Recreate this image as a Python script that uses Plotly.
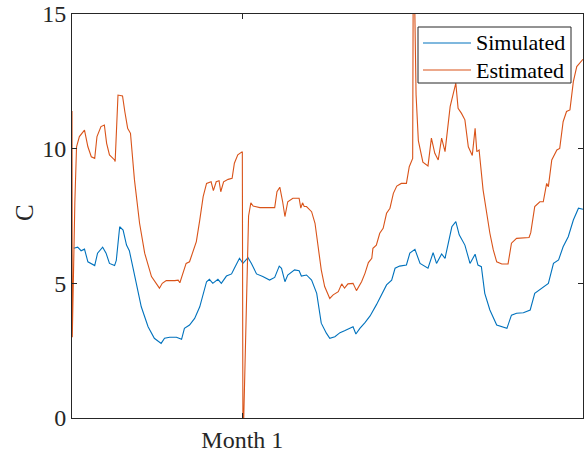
import plotly.graph_objects as go

# Time in days over a 90-day window, tick placed at day 30
sim_days = [0.3, 1.0, 1.6, 2.2, 2.8, 4.0, 4.5, 5.4, 6.0, 6.6, 7.5, 7.8, 8.4, 9.0, 9.6,
            10.1, 10.7, 11.3, 12.2, 13.4, 14.5, 15.7, 16.3, 17.2, 18.4, 19.3, 19.8,
            20.7, 21.6, 22.5, 23.1, 23.7, 24.2, 24.8, 25.7, 26.3, 27.2, 28.1, 28.6,
            29.5, 30.1, 31.0, 31.6, 32.5, 33.6, 34.8, 35.7, 36.5, 36.9, 37.5, 38.0,
            39.2, 40.0, 40.4, 41.3, 42.2, 43.1, 43.9, 44.8, 45.4, 46.3, 47.2, 48.0,
            48.9, 49.5, 50.0, 50.7, 51.6, 52.5, 53.6, 54.5, 55.4, 56.3, 56.9, 57.7,
            58.9, 59.5, 60.4, 61.3, 62.7, 63.6, 64.2, 65.1, 65.7, 66.9, 67.6, 68.2,
            69.2, 70.1, 71.0, 71.5, 72.1, 72.7, 73.6, 74.8, 75.7, 76.6, 77.4, 78.3,
            79.5, 80.7, 81.5, 82.1, 83.0, 83.9, 84.8, 85.7, 86.5, 87.4, 88.3, 89.2,
            90.0]
sim_vals = [6.30, 6.34, 6.21, 6.27, 5.80, 5.66, 6.12, 6.34, 6.12, 5.74, 5.66, 5.85, 7.10,
            6.98, 6.42, 6.21, 5.62, 5.00, 4.13, 3.39, 2.96, 2.77, 2.96, 3.00, 3.00,
            2.92, 3.33, 3.45, 3.70, 4.13, 4.63, 5.06, 5.15, 5.00, 5.15, 5.00, 5.27,
            5.35, 5.56, 5.93, 5.74, 5.95, 5.74, 5.35, 5.25, 5.12, 5.22, 5.64, 5.56,
            5.06, 5.31, 5.50, 5.47, 5.27, 5.31, 5.12, 4.63, 3.52, 3.15, 2.96, 3.02,
            3.17, 3.24, 3.33, 3.39, 3.12, 3.33, 3.54, 3.79, 4.20, 4.57, 4.94, 5.12,
            5.56, 5.64, 5.68, 6.12, 6.26, 5.74, 5.56, 6.14, 5.74, 6.09, 5.93, 7.10,
            7.29, 6.80, 6.42, 5.74, 6.08, 5.68, 5.62, 4.63, 4.01, 3.45, 3.39, 3.33,
            3.82, 3.89, 3.91, 4.01, 4.63, 4.73, 4.88, 5.00, 5.74, 5.87, 6.36, 6.73,
            7.35, 7.79, 7.75]

est_days = [0.0, 0.05, 0.5, 0.8, 1.3, 2.2, 2.8, 3.4, 4.0, 4.4, 5.1, 5.7, 6.1, 6.6,
            7.5, 7.6, 8.1, 8.9, 9.3, 9.8, 10.3, 11.0, 11.9, 12.8, 14.0, 14.8, 15.4,
            15.9, 16.6, 18.1, 18.7, 19.0, 19.5, 20.1, 20.7, 21.3, 21.9, 22.5, 23.1,
            23.7, 24.5, 24.9, 25.4, 25.9, 26.2, 26.7, 27.5, 28.2, 28.6, 29.2, 30.0,
            30.1, 30.25, 30.7, 31.1, 31.5, 31.9, 33.1, 35.7, 36.1, 36.6, 37.1, 37.5,
            38.0, 38.9, 40.0, 40.3, 40.6, 40.9, 41.3, 42.2, 42.8, 43.3, 43.9, 44.5,
            45.4, 46.0, 46.9, 47.5, 48.0, 48.6, 49.5, 50.1, 51.0, 51.6, 52.2, 52.8,
            53.0, 53.6, 54.2, 54.8, 55.4, 56.0, 56.6, 57.2, 58.0, 58.9, 59.4, 60.0,
            60.1, 60.35, 60.6, 61.0, 61.8, 62.7, 63.3, 63.9, 64.5, 65.1, 65.7, 66.6,
            67.6, 68.0, 68.6, 69.2, 69.8, 70.5, 70.9, 71.0, 71.3, 71.7, 72.4, 73.0,
            73.6, 74.2, 74.8, 75.7, 76.8, 77.4, 78.3, 80.5, 80.8, 81.5, 82.4, 83.0,
            83.6, 83.9, 84.5, 85.4, 85.9, 86.5, 87.1, 87.7, 88.3, 88.9, 89.8, 90.0]
est_vals = [11.40, 3.00, 8.00, 10.07, 10.45, 10.69, 10.07, 9.70, 9.64, 10.45, 10.82,
            10.88, 10.20, 9.77, 9.58, 9.52, 11.99, 11.96, 11.38, 10.76, 10.57, 8.84,
            7.23, 6.12, 5.25, 5.00, 4.82, 5.00, 5.10, 5.10, 5.12, 5.02, 5.37, 5.74,
            5.80, 6.18, 6.55, 7.35, 8.22, 8.71, 8.77, 8.44, 8.77, 8.81, 8.40, 8.77,
            8.86, 8.90, 9.46, 9.77, 9.89, 0.00, 0.00, 4.00, 7.50, 7.99, 7.87, 7.81,
            7.81, 8.40, 8.57, 8.03, 7.48, 8.03, 8.16, 8.16, 7.79, 7.99, 7.85, 7.85,
            7.66, 7.23, 6.36, 5.50, 4.88, 4.44, 4.57, 4.69, 4.98, 4.82, 4.98, 5.00,
            4.73, 5.06, 5.37, 5.77, 5.93, 6.30, 6.42, 6.86, 7.04, 7.60, 7.79, 8.34,
            8.61, 8.71, 8.71, 9.33, 9.64, 16.50, 15.50, 12.00, 10.30, 9.50, 9.36,
            10.39, 9.83, 9.58, 10.39, 9.89, 11.56, 12.43, 11.50, 11.31, 11.07, 10.07,
            9.75, 10.40, 10.76, 9.89, 9.95, 8.47, 7.60, 6.86, 6.24, 5.80, 5.72, 5.72,
            6.49, 6.67, 6.70, 6.88, 7.85, 8.03, 8.03, 8.71, 8.59, 9.58, 9.95, 10.01,
            11.00, 11.38, 11.44, 12.49, 13.05, 13.29, 13.32]

series_names = ["Simulated", "Estimated"]
series_colors = ["#0072BD", "#D95319"]

x_tick_vals = [30]
x_tick_text = ["Month 1"]
y_tick_vals = [0, 5, 10, 15]
y_label = "C"

AXIS_COLOR = "#262626"
FONT = "Liberation Serif, Times New Roman, serif"

W, H = 584, 455
M_L, M_R, M_T, M_B = 72, 1, 14, 37
PLOT_W = W - M_L - M_R
PLOT_H = H - M_T - M_B


def px_x(px):
    """Page pixel column -> paper fraction of the plot area."""
    return (px - M_L) / PLOT_W


def px_y(py):
    """Page pixel row -> paper fraction of the plot area."""
    return (H - M_B - py) / PLOT_H


fig = go.Figure()
for name, color, xs, ys in zip(series_names, series_colors,
                               [sim_days, est_days], [sim_vals, est_vals]):
    fig.add_trace(go.Scatter(x=xs, y=ys, mode="lines", name=name,
                             line=dict(color=color, width=1.1), showlegend=False))

axis_common = dict(showline=True, linecolor=AXIS_COLOR, linewidth=1,
                   mirror="ticks", ticks="inside", ticklen=5, tickcolor=AXIS_COLOR,
                   showgrid=False, zeroline=False,
                   tickfont=dict(family=FONT, size=24, color=AXIS_COLOR))

# Boxed legend in the upper-right corner of the axes
shapes = [dict(type="rect", xref="paper", yref="paper",
               x0=px_x(418), x1=px_x(571), y0=px_y(83), y1=px_y(27),
               fillcolor="white", line=dict(color=AXIS_COLOR, width=1), layer="above")]
annotations = []
for i, (name, color) in enumerate(zip(series_names, series_colors)):
    row_y = px_y(43 + 27 * i)
    shapes.append(dict(type="line", xref="paper", yref="paper",
                       x0=px_x(423), x1=px_x(471), y0=row_y, y1=row_y,
                       line=dict(color=color, width=1.1), layer="above"))
    annotations.append(dict(text=name, xref="paper", yref="paper",
                            x=px_x(474), y=row_y, xanchor="left", yanchor="middle",
                            showarrow=False,
                            font=dict(family=FONT, size=22, color="black")))

# Vertical axis label
annotations.append(dict(text=y_label, xref="paper", yref="paper",
                        x=px_x(24), y=px_y(213), xanchor="center", yanchor="middle",
                        textangle=-90, showarrow=False,
                        font=dict(family=FONT, size=25, color=AXIS_COLOR)))

fig.update_layout(
    width=W, height=H,
    margin=dict(l=M_L, r=M_R, t=M_T, b=M_B),
    paper_bgcolor="white", plot_bgcolor="white",
    font=dict(family=FONT, color=AXIS_COLOR),
    xaxis=dict(range=[0, 90], tickvals=x_tick_vals, ticktext=x_tick_text,
               **axis_common),
    yaxis=dict(range=[0, 15], tickvals=y_tick_vals, **axis_common),
    shapes=shapes,
    annotations=annotations,
    showlegend=False,
)

fig.write_html("out.html")
